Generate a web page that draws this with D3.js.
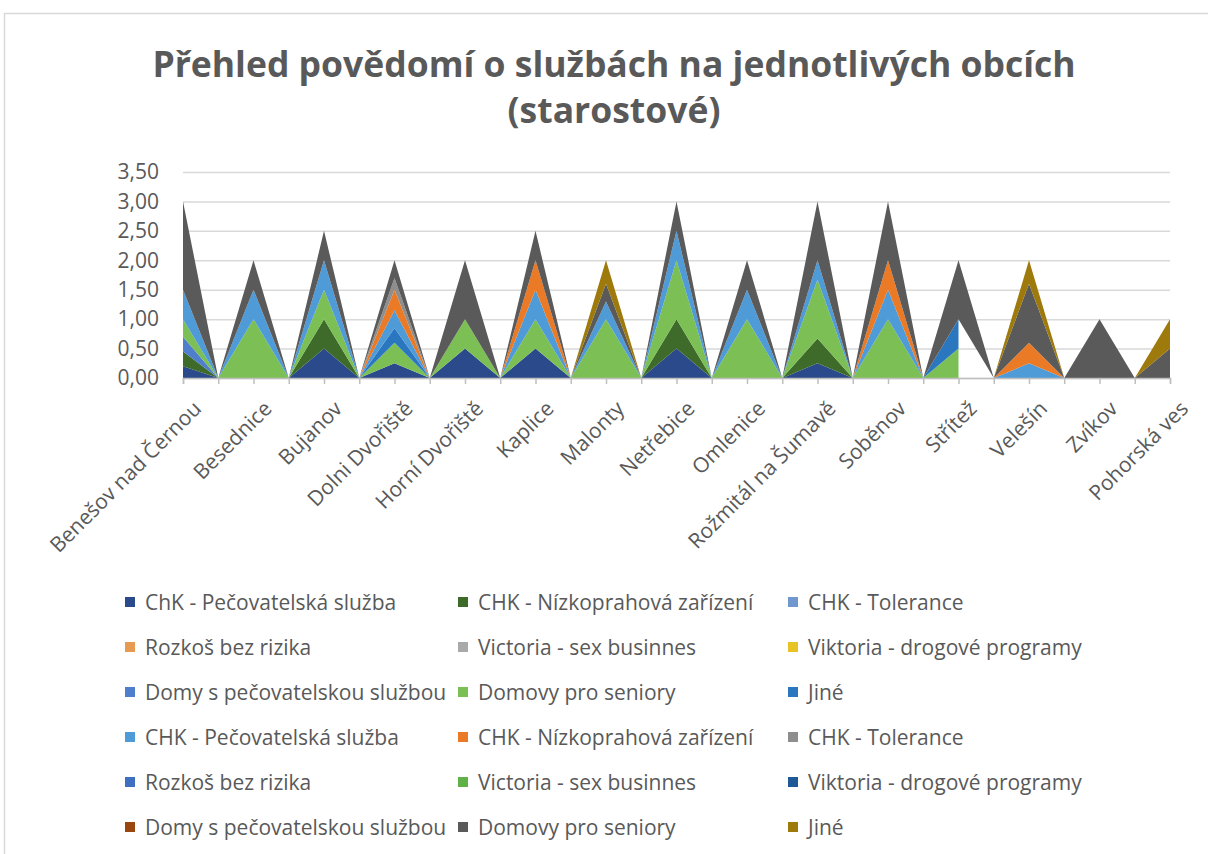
<!DOCTYPE html>
<meta charset="utf-8">
<style>
body { margin: 0; background: #fff; }
svg text { font-family: "Open Sans", "Noto Sans", sans-serif; fill: #595959; }
.grid line { stroke: #d9d9d9; stroke-width: 1.5; }
.grid .domain { display: none; }
.yaxis .domain { display: none; }
.xaxis .domain, .xaxis line { stroke: #bfbfbf; stroke-width: 1.5; }
</style>
<body>
<script src="https://d3js.org/d3.v7.min.js"></script>
<script>
// categories: every town is followed by an empty row in the source sheet
var cities = ["Benešov nad Černou", "", "Besednice", "", "Bujanov", "", "Dolni Dvořiště", "",
  "Horní Dvořiště", "", "Kaplice", "", "Malonty", "", "Netřebice", "", "Omlenice", "",
  "Rožmitál na Šumavě", "", "Soběnov", "", "Střítež", "", "Velešín", "", "Zvíkov", "", "Pohorská ves"];

var seriesNames = ["ChK - Pečovatelská služba", "CHK - Nízkoprahová zařízení", "CHK - Tolerance",
  "Rozkoš bez rizika", "Victoria - sex businnes", "Viktoria - drogové programy",
  "Domy s pečovatelskou službou", "Domovy pro seniory", "Jiné",
  "CHK - Pečovatelská služba", "CHK - Nízkoprahová zařízení", "CHK - Tolerance",
  "Rozkoš bez rizika", "Victoria - sex businnes", "Viktoria - drogové programy",
  "Domy s pečovatelskou službou", "Domovy pro seniory", "Jiné"];

var seriesColors = ["#2b4a8b", "#3e6b2a", "#7098cf", "#e79a52", "#a9a9a9", "#e8c326",
  "#4f7fcc", "#7cbf55", "#2a77c0", "#4e9bd8", "#eb7a26", "#8e8e8e",
  "#3f6fc0", "#5fb247", "#1f5a96", "#9a460f", "#5a5a5a", "#9e7a0c"];

// values per row (29 rows), null = empty cell
var chkPec1   = [0.2,0, 0,0, 0.5,0, 0.25,0, 0.5,0, 0.5,0, 0,0, 0.5,0, 0,0, 0.25,0, 0,0, 0,0, 0,0, 0,0, 0];
var chkNizko1 = [0.25,0, 0,0, 0.5,0, 0,0, 0,0, 0,0, 0,0, 0.5,0, 0,0, 0.42,0, 0,0, 0,0, 0,0, 0,0, 0];
var chkTol1   = [0,0, 0,0, 0,0, 0,0, 0,0, 0,0, 0,0, 0,0, 0,0, 0,0, 0,0, 0,0, 0,0, 0,0, 0];
var rozkos1   = [0,0, 0,0, 0,0, 0,0, 0,0, 0,0, 0,0, 0,0, 0,0, 0,0, 0,0, 0,0, 0,0, 0,0, 0];
var victSex1  = [0,0, 0,0, 0,0, 0,0, 0,0, 0,0, 0,0, 0,0, 0,0, 0,0, 0,0, 0,0, 0,0, 0,0, 0];
var viktDrog1 = [0,0, 0,0, 0,0, 0,0, 0,0, 0,0, 0,0, 0,0, 0,0, 0,0, 0,0, 0,0, 0,0, 0,0, 0];
var domyPec1  = [0.25,0, 0,0, 0,0, 0,0, 0,0, 0,0, 0,0, 0,0, 0,0, 0,0, 0,0, 0,0, 0,0, 0,0, 0];
var domovy1   = [0.3,0, 1,0, 0.5,0, 0.35,0, 0.5,0, 0.5,0, 1,0, 1,0, 1,0, 1,0, 1,0, 0.5,null, 0,0, 0,0, 0];
var jine1     = [0,0, 0,0, 0,0, 0.25,0, 0,0, 0,0, 0,0, 0,0, 0,0, 0,0, 0,0, 0.5,null, 0,0, 0,0, 0];
var chkPec2   = [0.5,0, 0.5,0, 0.5,0, 0.3,0, 0,0, 0.5,0, 0.3,0, 0.5,0, 0.5,0, 0.33,0, 0.5,0, 0,0, 0.25,0, 0,0, 0];
var chkNizko2 = [0,0, 0,0, 0,0, 0.35,0, 0,0, 0.5,0, 0,0, 0,0, 0,0, 0,0, 0.5,0, 0,0, 0.35,0, 0,0, 0];
var chkTol2   = [0,0, 0,0, 0,0, 0.2,0, 0,0, 0,0, 0,0, 0,0, 0,0, 0,0, 0,0, 0,0, 0,0, 0,0, 0];
var rozkos2   = [0,0, 0,0, 0,0, 0,0, 0,0, 0,0, 0,0, 0,0, 0,0, 0,0, 0,0, 0,0, 0,0, 0,0, 0];
var victSex2  = [0,0, 0,0, 0,0, 0,0, 0,0, 0,0, 0,0, 0,0, 0,0, 0,0, 0,0, 0,0, 0,0, 0,0, 0];
var viktDrog2 = [0,0, 0,0, 0,0, 0,0, 0,0, 0,0, 0,0, 0,0, 0,0, 0,0, 0,0, 0,0, 0,0, 0,0, 0];
var domyPec2  = [0,0, 0,0, 0,0, 0,0, 0,0, 0,0, 0,0, 0,0, 0,0, 0,0, 0,0, 0,0, 0,0, 0,0, 0];
var domovy2   = [1.5,0, 0.5,0, 0.5,0, 0.3,0, 1,0, 0.5,0, 0.3,0, 0.5,0, 0.5,0, 1,0, 1,0, 1,0, 1,0, 1,0, 0.5];
var jine2     = [0,0, 0,0, 0,0, 0,0, 0,0, 0,0, 0.4,0, 0,0, 0,0, 0,0, 0,0, 0,0, 0.4,0, 0,0, 0.5];

var yTicks = [0, 0.5, 1, 1.5, 2, 2.5, 3, 3.5];

var allSeries = [chkPec1, chkNizko1, chkTol1, rozkos1, victSex1, viktDrog1, domyPec1, domovy1, jine1,
  chkPec2, chkNizko2, chkTol2, rozkos2, victSex2, viktDrog2, domyPec2, domovy2, jine2];

var svg = d3.select("body").append("svg")
    .attr("width", 1208)
    .attr("height", 854);

// chart frame
svg.append("rect")
    .attr("x", 4.5).attr("y", 13.5)
    .attr("width", 1220).attr("height", 860)
    .attr("fill", "#fff")
    .attr("stroke", "#d9d9d9").attr("stroke-width", 1.5);

svg.append("text")
    .attr("x", 614).attr("y", 77)
    .attr("text-anchor", "middle")
    .style("font-size", "35.5px").style("font-weight", "bold")
    .text("Přehled povědomí o službách na jednotlivých obcích");
svg.append("text")
    .attr("x", 614).attr("y", 123)
    .attr("text-anchor", "middle")
    .style("font-size", "35.5px").style("font-weight", "bold")
    .text("(starostové)");

var xScale = d3.scalePoint()
    .domain(d3.range(cities.length))
    .range([183, 1170]);

var yScale = d3.scaleLinear()
    .domain([0, 3.5])
    .range([378, 172]);

// gridlines
svg.append("g")
    .attr("class", "grid")
    .attr("transform", "translate(183,0)")
    .call(d3.axisLeft(yScale).tickValues(yTicks).tickSize(-987).tickFormat(""));

// y labels
svg.append("g")
    .attr("class", "yaxis")
    .attr("transform", "translate(162,0)")
    .call(d3.axisLeft(yScale).tickValues(yTicks).tickSize(0)
        .tickFormat(function(d) { return d.toFixed(2).replace(".", ","); }))
    .selectAll("text")
    .style("font-size", "21px");

// stacked areas
var rows = cities.map(function(c, i) {
    var r = {};
    allSeries.forEach(function(s, k) { r[k] = s[i]; });
    return r;
});

var stack = d3.stack()
    .keys(d3.range(allSeries.length))
    .value(function(d, k) { return d[k] == null ? 0 : d[k]; });

var layers = stack(rows);

svg.append("g").selectAll("path")
    .data(layers)
    .enter().append("path")
    .attr("fill", function(d, k) { return seriesColors[k]; })
    .attr("d", function(layer, k) {
        return d3.area()
            .defined(function(d, i) { return allSeries[k][i] !== null; })
            .x(function(d, i) { return xScale(i); })
            .y0(function(d) { return yScale(d[0]); })
            .y1(function(d) { return yScale(d[1]); })(layer);
    });

// x axis
var xAxis = svg.append("g")
    .attr("class", "xaxis")
    .attr("transform", "translate(0,378)")
    .call(d3.axisBottom(xScale).tickSizeOuter(0).tickSize(6)
        .tickFormat(function(i) { return cities[i]; }));

xAxis.selectAll("text")
    .style("font-size", "21px")
    .attr("text-anchor", "end")
    .attr("dy", null)
    .attr("y", 0)
    .attr("transform", "translate(19,32) rotate(-45)");

// legend, 3 columns
var legendX = [125, 458, 788];
var legend = svg.append("g").selectAll("g")
    .data(seriesNames)
    .enter().append("g")
    .attr("transform", function(d, i) {
        return "translate(" + legendX[i % 3] + "," + (602 + Math.floor(i / 3) * 45) + ")";
    });

legend.append("rect")
    .attr("x", 0).attr("y", -5)
    .attr("width", 10).attr("height", 10)
    .attr("fill", function(d, i) { return seriesColors[i]; });

legend.append("text")
    .attr("x", 20).attr("y", 7.5)
    .style("font-size", "21px")
    .text(function(d) { return d; });
</script>
</body>
